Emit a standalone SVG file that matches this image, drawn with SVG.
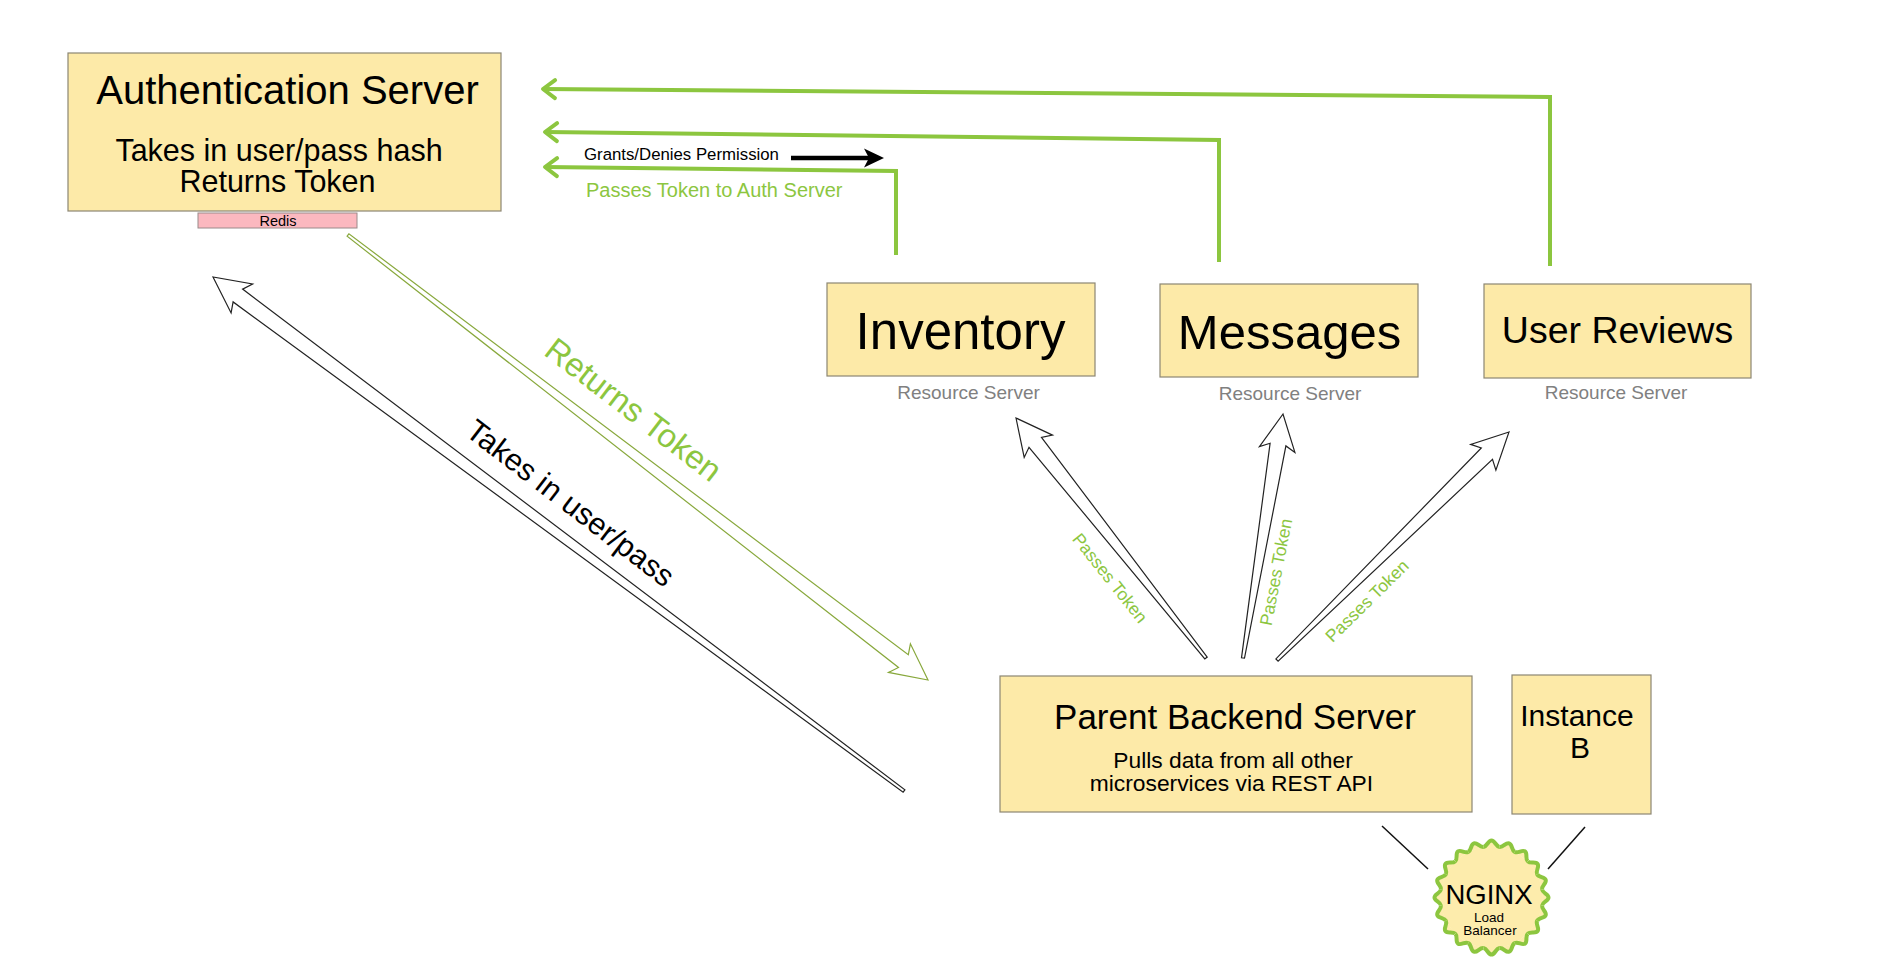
<svg xmlns="http://www.w3.org/2000/svg" xmlns:xlink="http://www.w3.org/1999/xlink" width="1886" height="978" viewBox="0 0 1886 978">
<defs>
<style>
.box{fill:#fdeaa8;stroke:#8c8673;stroke-width:1.2}
.t{font-family:"Liberation Sans",Arial,Helvetica,sans-serif;fill:#000}
.c{text-anchor:middle}
.g{fill:#8cc63f}
.gray{fill:#808080}
.gl{fill:none;stroke:#8cc63f;stroke-width:4;stroke-linejoin:miter}
.blk{fill:#fff;stroke:#222;stroke-width:1.2;stroke-linejoin:miter}
.olv{fill:#fff;stroke:#88a83c;stroke-width:1.2;stroke-linejoin:miter}
.thin{stroke:#111;stroke-width:1.5;fill:none}
</style>
<marker id="chev" markerUnits="userSpaceOnUse" markerWidth="30" markerHeight="30" viewBox="-20 -15 30 30" refX="0" refY="0" orient="auto" overflow="visible">
<path d="M-12,-9 L0,0 L-12,9" fill="none" stroke="#8cc63f" stroke-width="4" stroke-linecap="round" stroke-linejoin="round"/>
</marker>
<path id="bump" d="M -8.0,-50.6 C -4.1,-51.2 -3.6,-57 0,-57 C 3.6,-57 4.1,-51.2 8.0,-50.6"/>
<g id="b5">
<use xlink:href="#bump" href="#bump"/>
<use xlink:href="#bump" href="#bump" transform="rotate(18)"/>
<use xlink:href="#bump" href="#bump" transform="rotate(36)"/>
<use xlink:href="#bump" href="#bump" transform="rotate(54)"/>
<use xlink:href="#bump" href="#bump" transform="rotate(72)"/>
</g>
<g id="ring">
<use xlink:href="#b5" href="#b5"/>
<use xlink:href="#b5" href="#b5" transform="rotate(90)"/>
<use xlink:href="#b5" href="#b5" transform="rotate(180)"/>
<use xlink:href="#b5" href="#b5" transform="rotate(270)"/>
</g>
</defs>
<rect x="0" y="0" width="1886" height="978" fill="#ffffff"/>

<g id="connectors">
<path class="gl" d="M1550,266 L1550,97 L543,89" marker-end="url(#chev)"/>
<path class="gl" d="M1219,262 L1219,140 L545,132" marker-end="url(#chev)"/>
<path class="gl" d="M896,255 L896,171 L545,167" marker-end="url(#chev)"/>
<text class="t" x="584" y="160" font-size="16.8">Grants/Denies Permission</text>
<line x1="791" y1="158" x2="870" y2="158" stroke="#000" stroke-width="4.5"/>
<polygon points="884,158 864,148.5 869,158 864,167.5" fill="#000"/>
<text class="t g" x="586" y="197" font-size="20">Passes Token to Auth Server</text>

<polygon class="olv" points="928,680 910.4,643.8 908.3,654.8 348.9,233.8 347.1,236.2 898.5,667.5 888.5,672.4"/>
<text class="t g c" font-size="33" transform="translate(634,409) rotate(37.5)" x="0" y="12">Returns Token</text>

<polygon class="blk" points="213,277 231.1,312.9 233.1,301.9 903.1,792.2 904.9,789.8 242.6,289.1 252.6,284"/>
<text class="t c" font-size="30.5" transform="translate(569,505) rotate(37.5)" x="0" y="8">Takes in user/pass</text>

<polygon class="blk" points="1016,418 1024.2,457.4 1029,447.3 1204.8,658.9 1207.2,657.1 1041.5,437.3 1052.5,435.1"/>
<text class="t g c" font-size="17.5" transform="translate(1110,578) rotate(51.5)" x="0" y="6">Passes Token</text>

<polygon class="blk" points="1283,414 1259.4,446.6 1270.1,443.3 1241.5,657.8 1244.5,658.2 1285.9,445.9 1294.9,452.4"/>
<text class="t g c" font-size="17.5" transform="translate(1276,572) rotate(-79)" x="0" y="6">Passes Token</text>

<polygon class="blk" points="1509,432 1470.7,444.4 1481.3,448 1275.9,658.9 1278.1,661.1 1492.5,459.4 1495.9,470.1"/>
<text class="t g c" font-size="17.5" transform="translate(1367,601) rotate(-44.5)" x="0" y="6">Passes Token</text>

<line class="thin" x1="1382" y1="826" x2="1428" y2="869"/>
<line class="thin" x1="1585" y1="827" x2="1548" y2="869"/>
</g>

<g id="auth-server">
<rect class="box" x="68" y="53" width="433" height="158"/>
<text class="t c" x="287.5" y="104" font-size="40">Authentication Server</text>
<text class="t c" x="279" y="160.5" font-size="30.5">Takes in user/pass hash</text>
<text class="t c" x="277.5" y="192" font-size="30.5">Returns Token</text>
</g>

<g id="redis">
<rect x="198" y="213" width="159" height="15" fill="#fbb8bf" stroke="#9a8a8a" stroke-width="1"/>
<text class="t c" x="278" y="226" font-size="14.5">Redis</text>
</g>

<g id="inventory">
<rect class="box" x="827" y="283" width="268" height="93"/>
<text class="t c" x="960.5" y="349" font-size="51">Inventory</text>
<text class="t c gray" x="968.5" y="399" font-size="19">Resource Server</text>
</g>

<g id="messages">
<rect class="box" x="1160" y="284" width="258" height="93"/>
<text class="t c" x="1289.5" y="349" font-size="49">Messages</text>
<text class="t c gray" x="1290" y="400" font-size="19">Resource Server</text>
</g>

<g id="user-reviews">
<rect class="box" x="1484" y="284" width="267" height="94"/>
<text class="t c" x="1617.5" y="343" font-size="37.5">User Reviews</text>
<text class="t c gray" x="1616" y="399" font-size="19">Resource Server</text>
</g>

<g id="parent-backend">
<rect class="box" x="1000" y="676" width="472" height="136"/>
<text class="t c" x="1235" y="729" font-size="35">Parent Backend Server</text>
<text class="t c" x="1233" y="768" font-size="22.8">Pulls data from all other</text>
<text class="t c" x="1231.5" y="791" font-size="22.8">microservices via REST API</text>
</g>

<g id="instance-b">
<rect class="box" x="1512" y="675" width="139" height="139"/>
<text class="t c" x="1577" y="726" font-size="30">Instance</text>
<text class="t c" x="1580" y="758" font-size="30">B</text>
</g>

<g id="nginx">
<g transform="translate(1491.5,897.5)">
<circle r="51" fill="#fdecac"/>
<use xlink:href="#ring" href="#ring" fill="#fdecac" stroke="none"/>
<use xlink:href="#ring" href="#ring" fill="none" stroke="#8cc63f" stroke-width="4"/>
</g>
<text class="t c" x="1489" y="904" font-size="27.5">NGINX</text>
<text class="t c" x="1489" y="922" font-size="13.5">Load</text>
<text class="t c" x="1490" y="935" font-size="13.5">Balancer</text>
</g>
</svg>
